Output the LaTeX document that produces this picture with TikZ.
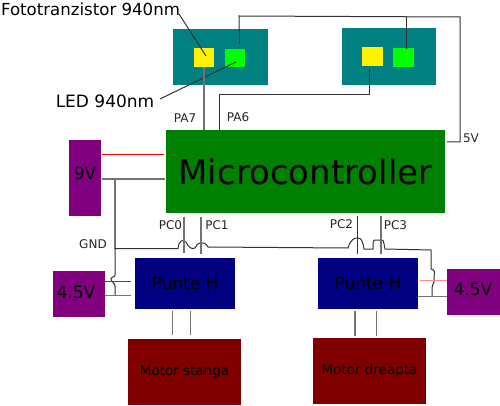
\documentclass[tikz,border=0pt]{standalone}
\usepackage{fontspec}
\setmainfont{DejaVu Sans}
\usepackage{tikz}

\begin{document}
\begin{tikzpicture}[
  x=1pt,y=-1pt,
  block/.style={inner sep=0pt,outer sep=0pt,text=black},
  wire/.style={draw=black!80,line width=1pt},
  greywire/.style={draw=black!55,line width=1.1pt},
  redwire/.style={draw=red,line width=0.8pt},
  lbl/.style={inner sep=0pt,font=\fontsize{12}{12}\selectfont,text=black!85},
  biglbl/.style={inner sep=0pt,font=\fontsize{17}{17}\selectfont,text=black}
]
\useasboundingbox (0,0) rectangle (500,406);
% sensor boards
\node[block,fill=teal,minimum width=95pt,minimum height=56pt] (senzL) at (220.5,57) {};
\node[block,fill=teal,minimum width=94pt,minimum height=57pt] (senzR) at (389,56.5) {};
\node[block,fill=yellow,minimum width=20pt,minimum height=19pt] (fotoL) at (204,57.5) {};
\node[block,fill=green,minimum width=20pt,minimum height=18pt] (ledL) at (235,58) {};
\node[block,fill=yellow,minimum width=21pt,minimum height=19pt] (fotoR) at (372.5,56.5) {};
\node[block,fill=green,minimum width=21pt,minimum height=19pt] (ledR) at (403.5,57.5) {};
% main blocks
\node[block,fill=green!50!black,minimum width=279pt,minimum height=83pt,font=\fontsize{34}{34}\selectfont] (mcu) at (305.5,171.5) {Microcontroller};
\node[block,fill=violet,minimum width=32pt,minimum height=76pt] (batA) at (85,178) {};
\node[block,fill=violet,minimum width=52pt,minimum height=46pt] (batL) at (79,294) {};
\node[block,fill=violet,minimum width=53pt,minimum height=46pt] (batR) at (473.5,292) {};
\node[block,fill=blue!50!black,minimum width=100pt,minimum height=51pt,font=\fontsize{17}{17}\selectfont] (hL) at (185,283.5) {Punte H};
\node[block,fill=blue!50!black,minimum width=100pt,minimum height=51pt,font=\fontsize{17}{17}\selectfont] (hR) at (368,283.5) {Punte H};
\node[block,fill=red!50!black,minimum width=113pt,minimum height=66pt,font=\fontsize{13.5}{13.5}\selectfont] (motL) at (184.5,372) {Motor stanga};
\node[block,fill=red!50!black,minimum width=113pt,minimum height=66pt,font=\fontsize{13.5}{13.5}\selectfont] (motR) at (369.5,371) {Motor dreapta};
% labels
\node[biglbl] (batAtxt) at (85,173) {9V};
\node[biglbl] (batLtxt) at (76,292) {4.5V};
\node[biglbl] (batRtxt) at (473,289) {4.5V};
\node[biglbl,font=\fontsize{16.6}{17}\selectfont] (fotoLbl) at (90.5,9) {Fototranzistor 940nm};
\node[biglbl] (ledLbl) at (105,101) {LED 940nm};
\node[lbl] (pa7) at (185,118) {PA7};
\node[lbl] (pa6) at (238,117) {PA6};
\node[lbl] (v5) at (471,138) {5V};
\node[lbl] (gnd) at (93,244) {GND};
\node[lbl] (pc0) at (170.5,225) {PC0};
\node[lbl] (pc1) at (217,225) {PC1};
\node[lbl] (pc2) at (341.5,224) {PC2};
\node[lbl] (pc3) at (395.5,225) {PC3};
% corners and free ends
\coordinate (pa6top) at (219,95);
\coordinate (rail) at (239,16);
\coordinate (railR) at (460,17);
\coordinate (gndT) at (115,179);
\coordinate (gndB) at (115,248.5);
\coordinate (gndE) at (431,250);
% leaders
\draw[wire] (179,14) -- (206,56);
\draw[wire] (160,99) -- (236,62);
% sensor lines
\draw[greywire] (fotoL.south) -- (fotoL.south |- mcu.north);
\draw[wire] (369,69) -- (369,95) -- (pa6top) -- (pa6top |- mcu.north);
\draw[wire] (239.5,44) -- (rail) -- (railR) -- (460,142) -- (447,142);
\draw[wire] (406,49) -- (406,16);
% power
\draw[redwire] (102,154.5) -- (164,154.5);
\draw[greywire] (102,179) -- (165,179);
\draw[greywire] (gndT) -- (gndB);
\draw[wire] (gndB) -- (178,248.5) .. controls (179,240) and (183,239) .. (186,242)
  .. controls (188,247) and (192,250) .. (195,248) .. controls (197,242) and (204,240) .. (208,247)
  -- (348,248) .. controls (350,240) and (355,237) .. (358,238) .. controls (362,238) and (363,243) .. (364,249)
  -- (373,249) .. controls (373,243) and (373,240) .. (375,240) -- (382,240) .. controls (384,240) and (384,245) .. (385,249)
  -- (gndE) -- (431,269) .. controls (435,270) and (435,272) .. (434,276) -- (434,282) .. controls (433,285) and (432,286) .. (432,288) -- (432,296);
\draw[wire] (gndB) -- (115,275) .. controls (115,277) and (111,277) .. (111,279)
  .. controls (111,282) and (115,283) .. (115,286) -- (115,295.5);
\draw[redwire] (105,281.5) -- (131,281.5);
\draw[greywire] (105,295.5) -- (131,295.5);
\draw[redwire,draw=red!45] (420,280) -- (447,280);
\draw[greywire] (418,296.5) -- (447,296.5);
% port lines
\draw[greywire] (184,217) -- (184,253);
\draw[greywire] (201,217) -- (201,254);
\draw[wire] (357.5,216) -- (357.5,254);
\draw[greywire] (381,216) -- (381,254);
% motor lines
\draw[greywire] (172.5,311) -- (172.5,335);
\draw[greywire] (190.5,311) -- (190.5,335);
\draw[greywire] (355,311) -- (355,336);
\draw[greywire] (376.5,311) -- (376.5,336);
\end{tikzpicture}
\end{document}
